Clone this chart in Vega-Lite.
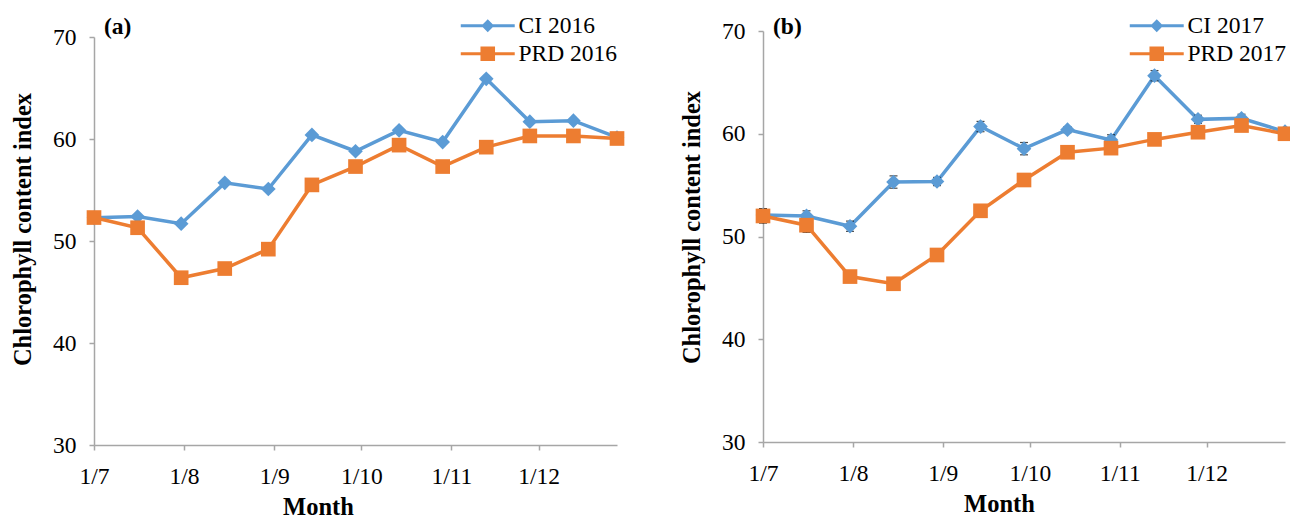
{
  "$schema": "https://vega.github.io/schema/vega-lite/v6.json",
  "background": "white",
  "autosize": {"type": "pad"},
  "padding": {"left": 10, "top": 14, "right": 0, "bottom": 0},
  "spacing": 54,
  "config": {
    "view": {"stroke": null},
    "font": "Liberation Serif",
    "axis": {
      "domainColor": "#A6A6A6", "domainWidth": 1.5,
      "tickColor": "#A6A6A6", "tickWidth": 1.5, "tickSize": 5,
      "labelFont": "Liberation Serif", "labelFontSize": 23.5, "labelColor": "black",
      "titleFont": "Liberation Serif", "titleFontSize": 24.5, "titleFontWeight": "bold", "titleColor": "black",
      "grid": false
    },
    "axisX": {"labelAngle": 0, "labelPadding": 14, "titlePadding": 8, "labelOverlap": false, "labelFlush": false},
    "axisY": {"labelPadding": 13, "titlePadding": 17},
    "legend": {
      "orient": "none", "title": null, "padding": 0,
      "symbolSize": 182, "symbolStrokeWidth": 0, "symbolOffset": 15.5, "symbolOpacity": 1,
      "labelFont": "Liberation Serif", "labelFontSize": 23.5, "labelColor": "black",
      "labelOffset": 19, "rowPadding": 3
    }
  },
  "datasets": {
    "a": [
      {"date": "2016-07-01", "series": "CI 2016", "value": 52.27},
      {"date": "2016-07-16", "series": "CI 2016", "value": 52.4},
      {"date": "2016-07-31", "series": "CI 2016", "value": 51.7},
      {"date": "2016-08-15", "series": "CI 2016", "value": 55.7},
      {"date": "2016-08-30", "series": "CI 2016", "value": 55.1},
      {"date": "2016-09-14", "series": "CI 2016", "value": 60.4},
      {"date": "2016-09-29", "series": "CI 2016", "value": 58.8},
      {"date": "2016-10-14", "series": "CI 2016", "value": 60.85},
      {"date": "2016-10-29", "series": "CI 2016", "value": 59.7},
      {"date": "2016-11-13", "series": "CI 2016", "value": 65.9},
      {"date": "2016-11-28", "series": "CI 2016", "value": 61.7},
      {"date": "2016-12-13", "series": "CI 2016", "value": 61.8},
      {"date": "2016-12-28", "series": "CI 2016", "value": 60.15},
      {"date": "2016-07-01", "series": "PRD 2016", "value": 52.3},
      {"date": "2016-07-16", "series": "PRD 2016", "value": 51.3},
      {"date": "2016-07-31", "series": "PRD 2016", "value": 46.4},
      {"date": "2016-08-15", "series": "PRD 2016", "value": 47.3},
      {"date": "2016-08-30", "series": "PRD 2016", "value": 49.2},
      {"date": "2016-09-14", "series": "PRD 2016", "value": 55.5},
      {"date": "2016-09-29", "series": "PRD 2016", "value": 57.3},
      {"date": "2016-10-14", "series": "PRD 2016", "value": 59.4},
      {"date": "2016-10-29", "series": "PRD 2016", "value": 57.3},
      {"date": "2016-11-13", "series": "PRD 2016", "value": 59.2},
      {"date": "2016-11-28", "series": "PRD 2016", "value": 60.3},
      {"date": "2016-12-13", "series": "PRD 2016", "value": 60.3},
      {"date": "2016-12-28", "series": "PRD 2016", "value": 60.05}
    ],
    "b": [
      {"date": "2017-07-01", "series": "CI 2017", "value": 52.1, "err": 0.6},
      {"date": "2017-07-16", "series": "CI 2017", "value": 52.0, "err": 0.5},
      {"date": "2017-07-31", "series": "CI 2017", "value": 51.0, "err": 0.5},
      {"date": "2017-08-15", "series": "CI 2017", "value": 55.3, "err": 0.6},
      {"date": "2017-08-30", "series": "CI 2017", "value": 55.35, "err": 0.4},
      {"date": "2017-09-14", "series": "CI 2017", "value": 60.7, "err": 0.5},
      {"date": "2017-09-29", "series": "CI 2017", "value": 58.55, "err": 0.6},
      {"date": "2017-10-14", "series": "CI 2017", "value": 60.4, "err": 0.3},
      {"date": "2017-10-29", "series": "CI 2017", "value": 59.4, "err": 0.5},
      {"date": "2017-11-13", "series": "CI 2017", "value": 65.65, "err": 0.5},
      {"date": "2017-11-28", "series": "CI 2017", "value": 61.4, "err": 0.4},
      {"date": "2017-12-13", "series": "CI 2017", "value": 61.5, "err": 0.4},
      {"date": "2017-12-28", "series": "CI 2017", "value": 60.2, "err": 0.3},
      {"date": "2017-07-01", "series": "PRD 2017", "value": 52.0, "err": 0.7},
      {"date": "2017-07-16", "series": "PRD 2017", "value": 51.1, "err": 0.7},
      {"date": "2017-07-31", "series": "PRD 2017", "value": 46.1, "err": 0.3},
      {"date": "2017-08-15", "series": "PRD 2017", "value": 45.4, "err": 0.3},
      {"date": "2017-08-30", "series": "PRD 2017", "value": 48.2, "err": 0.3},
      {"date": "2017-09-14", "series": "PRD 2017", "value": 52.5, "err": 0.3},
      {"date": "2017-09-29", "series": "PRD 2017", "value": 55.5, "err": 0.3},
      {"date": "2017-10-14", "series": "PRD 2017", "value": 58.2, "err": 0.3},
      {"date": "2017-10-29", "series": "PRD 2017", "value": 58.6, "err": 0.3},
      {"date": "2017-11-13", "series": "PRD 2017", "value": 59.45, "err": 0.3},
      {"date": "2017-11-28", "series": "PRD 2017", "value": 60.15, "err": 0.3},
      {"date": "2017-12-13", "series": "PRD 2017", "value": 60.8, "err": 0.3},
      {"date": "2017-12-28", "series": "PRD 2017", "value": 60.0, "err": 0.3}
    ]
  },
  "hconcat": [
    {
      "spacing": -18,
      "vconcat": [
        {"width": 1, "height": 1, "data": {"values": []}, "mark": "point"},
        {
          "width": 523, "height": 408,
          "data": {"name": "a"},
          "encoding": {
            "x": {"field": "date", "type": "temporal",
              "scale": {"type": "utc", "domain": [{"year": 2016, "month": 7, "date": 1, "utc": true}, {"year": 2016, "month": 12, "date": 28, "utc": true}]},
              "axis": {"title": "Month", "labelExpr": "utcFormat(datum.value, '%-d/%-m')", "titleX": 224,
                "values": [{"year": 2016, "month": 7, "date": 1, "utc": true}, {"year": 2016, "month": 8, "date": 1, "utc": true}, {"year": 2016, "month": 9, "date": 1, "utc": true}, {"year": 2016, "month": 10, "date": 1, "utc": true}, {"year": 2016, "month": 11, "date": 1, "utc": true}, {"year": 2016, "month": 12, "date": 1, "utc": true}]}},
            "y": {"field": "value", "type": "quantitative",
              "scale": {"domain": [30, 70], "nice": false, "zero": false},
              "axis": {"title": "Chlorophyll content index", "values": [30, 40, 50, 60, 70], "titleY": 192}},
            "color": {"field": "series", "type": "nominal",
              "scale": {"domain": ["CI 2016", "PRD 2016"], "range": ["#5B9BD5", "#ED7D31"]},
              "legend": {"legendX": 366.5, "legendY": -23}}
          },
          "layer": [
            {"transform": [{"filter": "time(datum.date) === utc(2016, 8, 29)"}],
              "mark": {"type": "point", "filled": true, "opacity": 0, "size": 182},
              "encoding": {"shape": {"field": "series", "type": "nominal",
                "scale": {"domain": ["CI 2016", "PRD 2016"], "range": ["M-4,-0.22H4V0.22H-4Z M0,-0.95L0.95,0L0,0.95L-0.95,0Z", "M-4,-0.22H4V0.22H-4Z M-1.08,-1.08H1.08V1.08H-1.08Z"]}}}},
            {"mark": {"type": "line", "strokeWidth": 3.5}},
            {"transform": [{"filter": "indexof(datum.series, 'CI') === 0"}],
              "mark": {"type": "point", "filled": true, "opacity": 1, "size": 215, "shape": "diamond"}},
            {"transform": [{"filter": "indexof(datum.series, 'PRD') === 0"}],
              "mark": {"type": "point", "filled": true, "opacity": 1, "size": 215, "shape": "square"}},
            {"transform": [{"filter": "datum.series === 'CI 2016' && time(datum.date) === utc(2016, 6, 1)"}],
              "mark": {"type": "text", "text": "(a)", "align": "left", "baseline": "bottom", "dx": 10, "dy": 2, "fontSize": 23.5, "fontWeight": "bold", "font": "Liberation Serif"},
              "encoding": {"y": {"datum": 70}, "color": {"value": "black"}}}
          ]
        }
      ],
      "resolve": {"scale": {"color": "independent", "shape": "independent"}, "legend": {"color": "independent", "shape": "independent"}}
    },
    {
      "vconcat": [
        {
          "width": 522, "height": 411,
          "data": {"name": "b"},
          "encoding": {
            "x": {"field": "date", "type": "temporal",
              "scale": {"type": "utc", "domain": [{"year": 2017, "month": 7, "date": 1, "utc": true}, {"year": 2017, "month": 12, "date": 28, "utc": true}]},
              "axis": {"title": "Month", "labelExpr": "utcFormat(datum.value, '%-d/%-m')", "titleX": 236,
                "values": [{"year": 2017, "month": 7, "date": 1, "utc": true}, {"year": 2017, "month": 8, "date": 1, "utc": true}, {"year": 2017, "month": 9, "date": 1, "utc": true}, {"year": 2017, "month": 10, "date": 1, "utc": true}, {"year": 2017, "month": 11, "date": 1, "utc": true}, {"year": 2017, "month": 12, "date": 1, "utc": true}]}},
            "y": {"field": "value", "type": "quantitative",
              "scale": {"domain": [30, 70], "nice": false, "zero": false},
              "axis": {"title": "Chlorophyll content index", "values": [30, 40, 50, 60, 70], "titleY": 196}},
            "color": {"field": "series", "type": "nominal",
              "scale": {"domain": ["CI 2017", "PRD 2017"], "range": ["#5B9BD5", "#ED7D31"]},
              "legend": {"legendX": 366.5, "legendY": -17}}
          },
          "layer": [
            {"transform": [{"filter": "time(datum.date) === utc(2017, 8, 29)"}],
              "mark": {"type": "point", "filled": true, "opacity": 0, "size": 182},
              "encoding": {"shape": {"field": "series", "type": "nominal",
                "scale": {"domain": ["CI 2017", "PRD 2017"], "range": ["M-4,-0.22H4V0.22H-4Z M0,-0.95L0.95,0L0,0.95L-0.95,0Z", "M-4,-0.22H4V0.22H-4Z M-1.08,-1.08H1.08V1.08H-1.08Z"]}}}},
            {"mark": {"type": "line", "strokeWidth": 3.5}},
            {"mark": {"type": "errorbar", "ticks": {"size": 8, "thickness": 1.2}, "rule": {"strokeWidth": 1.2}},
              "encoding": {"yError": {"field": "err"}, "color": {"value": "black"}}},
            {"transform": [{"filter": "indexof(datum.series, 'CI') === 0"}],
              "mark": {"type": "point", "filled": true, "opacity": 1, "size": 215, "shape": "diamond"}},
            {"transform": [{"filter": "indexof(datum.series, 'PRD') === 0"}],
              "mark": {"type": "point", "filled": true, "opacity": 1, "size": 215, "shape": "square"}},
            {"transform": [{"filter": "datum.series === 'CI 2017' && time(datum.date) === utc(2017, 6, 1)"}],
              "mark": {"type": "text", "text": "(b)", "align": "left", "baseline": "bottom", "dx": 10, "dy": 8, "fontSize": 23.5, "fontWeight": "bold", "font": "Liberation Serif"},
              "encoding": {"y": {"datum": 70}, "color": {"value": "black"}}}
          ]
        }
      ],
      "resolve": {"scale": {"color": "independent", "shape": "independent"}, "legend": {"color": "independent", "shape": "independent"}}
    }
  ],
  "resolve": {"scale": {"x": "independent", "y": "independent", "color": "independent", "shape": "independent"}, "legend": {"color": "independent", "shape": "independent"}}
}
